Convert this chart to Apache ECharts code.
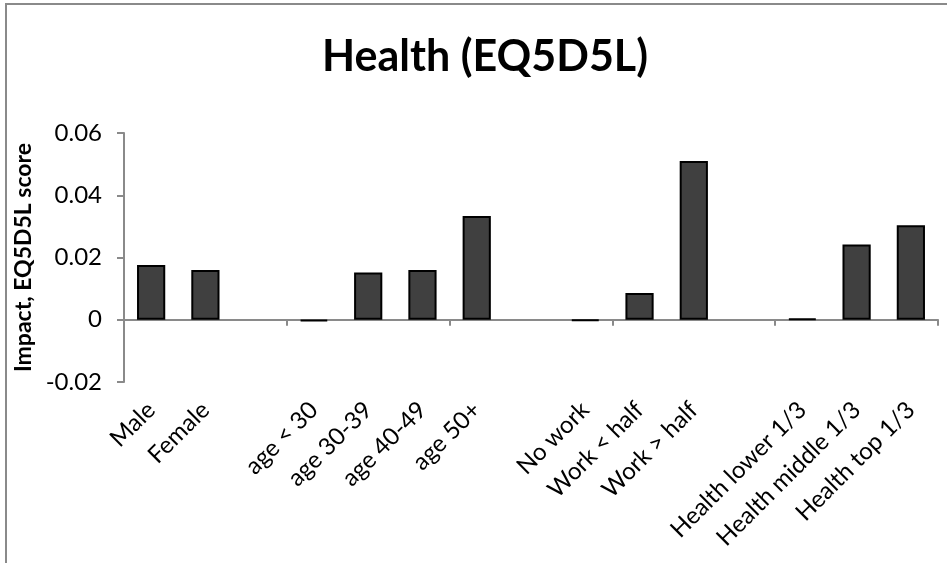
<!DOCTYPE html>
<html>
<head>
<meta charset="utf-8">
<script src="https://cdn.jsdelivr.net/npm/echarts@6/dist/echarts.min.js"></script>
<style>html,body{margin:0;padding:0;background:#fff}#c{width:947px;height:563px}</style>
</head>
<body>
<div id="c"></div>
<script>
var categories = ['Male', 'Female', '', 'age < 30', 'age 30-39', 'age 40-49', 'age 50+', ' ', 'No work', 'Work < half', 'Work > half', '  ', 'Health lower 1/3', 'Health middle 1/3', 'Health top 1/3'];
var values = [0.0176, 0.0160, null, -0.0005, 0.0152, 0.0160, 0.0333, null, -0.0004, 0.0086, 0.0510, null, 0.0004, 0.0242, 0.0304];
var yTicks = { min: -0.02, max: 0.06, interval: 0.02 };
var titleText = 'Health (EQ5D5L)';
var yName = 'Impact, EQ5D5L score';

var FONT = 'Lato';
var chart = echarts.init(document.getElementById('c'), null, { renderer: 'canvas' });
chart.setOption({
  animation: false,
  backgroundColor: '#fff',
  title: {
    text: titleText, left: 480, top: 31, textAlign: 'center',
    textStyle: { fontFamily: FONT, fontWeight: 'bold', fontSize: 43, color: '#000' }
  },
  graphic: [{
    type: 'rect', silent: true,
    shape: { x: 6, y: 4, width: 1000, height: 1000 },
    style: { fill: 'none', stroke: '#8a8a8a', lineWidth: 2 }
  }],
  grid: { left: 124, right: 9, top: 133, bottom: 181 },
  xAxis: [{
    type: 'category', data: categories, boundaryGap: true,
    axisLine: { onZero: true, lineStyle: { color: '#8a8a8a', width: 2 } },
    axisTick: { show: true, length: 6, lineStyle: { color: '#8a8a8a', width: 2 } },
    axisLabel: { show: false }
  }, {
    type: 'category', data: categories, boundaryGap: true, position: 'bottom',
    axisLine: { show: false, onZero: false }, axisTick: { show: false },
    axisLabel: { rotate: 45, interval: 0, margin: 24, fontFamily: FONT, fontSize: 24, color: '#000' }
  }],
  yAxis: {
    type: 'value', min: yTicks.min, max: yTicks.max, interval: yTicks.interval,
    name: yName, nameLocation: 'middle', nameGap: 79, nameRotate: 90,
    nameTextStyle: { fontFamily: FONT, fontWeight: 'bold', fontSize: 23, color: '#000' },
    axisLine: { show: true, lineStyle: { color: '#8a8a8a', width: 2 } },
    axisTick: { show: true, length: 7, lineStyle: { color: '#8a8a8a', width: 2 } },
    splitLine: { show: false },
    axisLabel: {
      margin: 22, fontFamily: FONT, fontSize: 24, color: '#000',
      formatter: function (v) { return v === 0 ? '0' : v.toFixed(2); }
    }
  },
  series: [{
    type: 'bar', data: values, barWidth: '52%', xAxisIndex: 0,
    itemStyle: { color: '#404040', borderColor: '#000', borderWidth: 2 }
  }]
});
</script>
</body>
</html>
